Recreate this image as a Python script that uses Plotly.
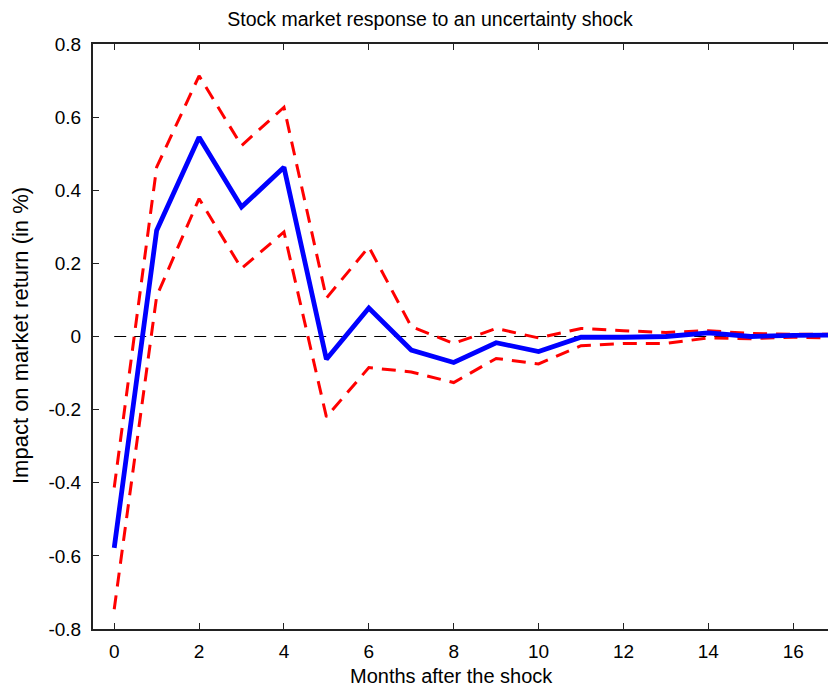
import plotly.graph_objects as go

# Impulse response of the stock market return to an uncertainty shock
months = [0, 1, 2, 3, 4, 5, 6, 7, 8, 9, 10, 11, 12, 13, 14, 15, 16, 17]
response = [-0.578, 0.29, 0.545, 0.354, 0.463, -0.062, 0.078, -0.037, -0.071,
            -0.017, -0.041, -0.002, -0.002, 0.0, 0.01, 0.0, 0.003, 0.004]
upper_band = [-0.413, 0.463, 0.713, 0.522, 0.627, 0.105, 0.245, 0.027, -0.019,
              0.022, -0.004, 0.022, 0.016, 0.011, 0.016, 0.008, 0.006, 0.006]
lower_band = [-0.746, 0.11, 0.377, 0.186, 0.286, -0.22, -0.085, -0.097, -0.126,
              -0.06, -0.075, -0.025, -0.019, -0.019, -0.004, -0.006, -0.002, -0.004]

x_ticks = [0, 2, 4, 6, 8, 10, 12, 14, 16]
y_ticks = [-0.8, -0.6, -0.4, -0.2, 0, 0.2, 0.4, 0.6, 0.8]
y_ticktext = ["-0.8", "-0.6", "-0.4", "-0.2", "0", "0.2", "0.4", "0.6", "0.8"]

font_family = "Liberation Sans, Arial, sans-serif"
W, H = 828, 687

fig = go.Figure()

# zero reference line
fig.add_trace(go.Scatter(
    x=[months[0], months[-1]], y=[0, 0], mode="lines",
    line=dict(color="black", width=1, dash="12px,8px"),
    hoverinfo="skip", showlegend=False))

for band in (upper_band, lower_band):
    fig.add_trace(go.Scatter(
        x=months, y=band, mode="lines",
        line=dict(color="#ff0000", width=3, dash="14px,9px"),
        showlegend=False))

fig.add_trace(go.Scatter(
    x=months, y=response, mode="lines",
    line=dict(color="#0000ff", width=4.8),
    showlegend=False))

axis_common = dict(
    showgrid=False, zeroline=False, showline=True, linecolor="#222222",
    linewidth=2, ticks="inside", ticklen=6, tickcolor="#222222",
    tickfont=dict(family=font_family, size=19, color="black"),
)

fig.update_xaxes(range=[-0.5, 16.82], tickvals=x_ticks, mirror="ticks",
                 ticklabelstandoff=4, **axis_common)
fig.update_yaxes(range=[-0.8, 0.8], tickvals=y_ticks, ticktext=y_ticktext,
                 ticklabelstandoff=6, **axis_common)

fig.update_layout(
    width=W, height=H,
    margin=dict(l=93, r=0, t=44, b=58),
    paper_bgcolor="white", plot_bgcolor="white",
    title=dict(text="Stock market response to an uncertainty shock",
               x=430 / W, xanchor="center", y=1 - 19 / H, yanchor="middle",
               font=dict(family=font_family, size=19.5, color="black")),
    annotations=[
        dict(text="Months after the shock", xref="paper", yref="paper",
             x=(451 - 93) / (W - 93), y=-(676 - 629) / (629 - 44),
             xanchor="center", yanchor="middle", showarrow=False,
             font=dict(family=font_family, size=20, color="black")),
        dict(text="Impact on market return (in %)", xref="paper", yref="paper",
             x=-(93 - 20) / (W - 93), y=(629 - 336) / (629 - 44),
             xanchor="center", yanchor="middle", showarrow=False, textangle=-90,
             font=dict(family=font_family, size=22, color="black")),
    ],
)

fig.write_html("out.html")
